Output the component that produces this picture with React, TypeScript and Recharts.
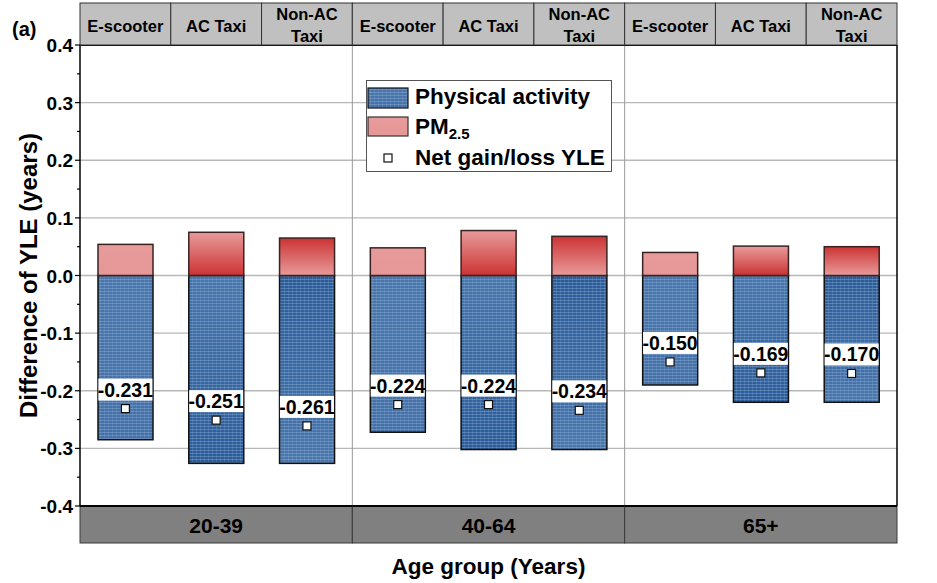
import React from 'react';
import { ComposedChart, Bar, Scatter, XAxis, YAxis, CartesianGrid, Legend, Label } from 'recharts';

// Years of life expectancy change by age group and travel mode
const AGE_GROUPS = ['20-39', '40-64', '65+'];
const MODES = ['E-scooter', 'AC Taxi', 'Non-AC Taxi'];
const HEADER_LABELS = [['E-scooter'], ['AC Taxi'], ['Non-AC', 'Taxi']];

// one value per age group x mode, age group major
const PHYSICAL_ACTIVITY = [-0.285, -0.326, -0.326, -0.272, -0.302, -0.302, -0.19, -0.22, -0.22];
const PM25 = [0.054, 0.075, 0.065, 0.048, 0.078, 0.068, 0.04, 0.051, 0.05];
const NET_YLE = [-0.231, -0.251, -0.261, -0.224, -0.224, -0.234, -0.15, -0.169, -0.17];

const Y_MAJOR = [-0.4, -0.3, -0.2, -0.1, 0, 0.1, 0.2, 0.3, 0.4];
const Y_MINOR = [-0.35, -0.25, -0.15, -0.05, 0.05, 0.15, 0.25, 0.35];
const Y_TICKS = [...Y_MAJOR, ...Y_MINOR].sort((a, b) => a - b);

const W = 937;
const H = 583;
const LEFT_AXIS_W = 80;
const RIGHT_AXIS_W = 40;
const HEADER_H = 42;
const FOOTER_H = 77;
const BAND_H = 37;
const BAND = (W - LEFT_AXIS_W - RIGHT_AXIS_W) / (AGE_GROUPS.length * MODES.length);
const FONT = '"Liberation Sans", Arial, Helvetica, sans-serif';

const BLUE_FILLS = ['blueFlat', 'blueDown', 'blueUp'];
const RED_FILLS = ['redFlat', 'redDown', 'redUp'];

const data = AGE_GROUPS.flatMap((group, gi) =>
  MODES.map((mode, mi) => {
    const i = gi * MODES.length + mi;
    return {
      key: `${group} ${mode}`,
      group,
      mode,
      modeIndex: mi,
      pa: PHYSICAL_ACTIVITY[i],
      pm: PM25[i],
      net: NET_YLE[i],
    };
  })
);

const byKey = (k: string) => data.find((d) => d.key === k);
const isMajor = (v: number) => Y_MAJOR.some((m) => Math.abs(m - v) < 1e-9);

const Defs = () => (
  <svg width={0} height={0} style={{ position: 'absolute' }}>
    <defs>
      <linearGradient id="blueFlat" x1="0" y1="0" x2="0" y2="1">
        <stop offset="0%" stopColor="#4a77ab" />
        <stop offset="100%" stopColor="#4470a6" />
      </linearGradient>
      <linearGradient id="blueDown" x1="0" y1="0" x2="0" y2="1">
        <stop offset="0%" stopColor="#4976aa" />
        <stop offset="100%" stopColor="#2b5b97" />
      </linearGradient>
      <linearGradient id="blueUp" x1="0" y1="0" x2="0" y2="1">
        <stop offset="0%" stopColor="#2b5b97" />
        <stop offset="100%" stopColor="#4a77ab" />
      </linearGradient>
      <linearGradient id="redFlat" x1="0" y1="0" x2="0" y2="1">
        <stop offset="0%" stopColor="#e89b9b" />
        <stop offset="100%" stopColor="#e69797" />
      </linearGradient>
      <linearGradient id="redDown" x1="0" y1="0" x2="0" y2="1">
        <stop offset="0%" stopColor="#e89b9b" />
        <stop offset="100%" stopColor="#cc3333" />
      </linearGradient>
      <linearGradient id="redUp" x1="0" y1="0" x2="0" y2="1">
        <stop offset="0%" stopColor="#cc3333" />
        <stop offset="100%" stopColor="#e89b9b" />
      </linearGradient>
      <pattern id="dots" patternUnits="userSpaceOnUse" width={4} height={3}>
        <rect x={0} y={0} width={4} height={1} fill="#9dbbe0" opacity={0.35} />
        <rect x={0} y={0} width={1} height={3} fill="#9dbbe0" opacity={0.2} />
      </pattern>
    </defs>
  </svg>
);

const barShape = (fills: string[], textured: boolean, edge: string) => (props: any) => {
  const { x, y, width, height, payload } = props;
  const top = height < 0 ? y + height : y;
  const h = Math.abs(height);
  const fill = `url(#${fills[payload.modeIndex]})`;
  return (
    <g>
      <rect x={x} y={top} width={width} height={h} fill={fill} />
      {textured && <rect x={x} y={top} width={width} height={h} fill="url(#dots)" />}
      <rect x={x} y={top} width={width} height={h} fill="none" stroke={edge} strokeWidth={1.5} />
    </g>
  );
};

const NetMarker = (props: any) => {
  const { cx, cy, payload } = props;
  return (
    <g>
      <rect x={cx - 27} y={cy - 30} width={54} height={22} fill="#fff" />
      <text
        x={cx}
        y={cy - 12}
        textAnchor="middle"
        fontFamily={FONT}
        fontWeight="bold"
        fontSize={19.5}
        fill="#000"
      >
        {payload.net.toFixed(3)}
      </text>
      <rect x={cx - 4} y={cy - 4} width={8} height={8} fill="#fff" stroke="#111" strokeWidth={1.2} />
    </g>
  );
};

const YTick = (side: 'left' | 'right') => (props: any) => {
  const { x, y, payload } = props;
  const major = isMajor(payload.value);
  const len = major ? 5 : 3;
  const dir = side === 'left' ? -1 : 1;
  return (
    <g>
      <line x1={x} x2={x + dir * len} y1={y} y2={y} stroke="#000" strokeWidth={1.2} />
      {major && (
        <text
          x={x + dir * 7}
          y={y + 7}
          textAnchor={side === 'left' ? 'end' : 'start'}
          fontFamily={FONT}
          fontWeight="bold"
          fontSize={19}
          fill="#000"
        >
          {payload.value.toFixed(1)}
        </text>
      )}
    </g>
  );
};

const HeaderTick = (props: any) => {
  const { x, y, payload } = props;
  const d = byKey(payload.value);
  if (!d) return <g />;
  const lines = HEADER_LABELS[d.modeIndex];
  const baselines = lines.length === 1 ? [y - 13] : [y - 25.5, y - 3];
  return (
    <g>
      <rect x={x - BAND / 2} y={y - HEADER_H} width={BAND} height={HEADER_H} fill="#c0c0c0" stroke="#333" strokeWidth={1} />
      {lines.map((line, i) => (
        <text
          key={line}
          x={x}
          y={baselines[i]}
          textAnchor="middle"
          fontFamily={FONT}
          fontWeight="bold"
          fontSize={16.5}
          fill="#000"
        >
          {line}
        </text>
      ))}
    </g>
  );
};

const GroupTick = (props: any) => {
  const { x, y, payload } = props;
  const d = byKey(payload.value);
  if (!d || d.modeIndex !== 1) return <g />;
  return (
    <g>
      <rect x={x - 1.5 * BAND} y={y} width={3 * BAND} height={BAND_H} fill="#808080" stroke="#3a3a3a" strokeWidth={1} />
      <line x1={x - 1.5 * BAND} x2={x + 1.5 * BAND} y1={y} y2={y} stroke="#000" strokeWidth={2} />
      <text x={x} y={y + 27} textAnchor="middle" fontFamily={FONT} fontWeight="bold" fontSize={21} fill="#000">
        {d.group}
      </text>
    </g>
  );
};

const YTitle = (props: any) => {
  const vb = props.viewBox || { x: 0, y: 45, width: LEFT_AXIS_W, height: 461 };
  const cx = vb.x + 28;
  const cy = vb.y + vb.height / 2;
  return (
    <text
      x={cx}
      y={cy}
      transform={`rotate(-90, ${cx}, ${cy})`}
      textAnchor="middle"
      dominantBaseline="central"
      fontFamily={FONT}
      fontWeight="bold"
      fontSize={24}
      fill="#000"
    >
      Difference of YLE (years)
    </text>
  );
};

const XTitle = (props: any) => {
  const vb = props.viewBox || { x: LEFT_AXIS_W, y: 506, width: 817, height: FOOTER_H };
  return (
    <text
      x={vb.x + vb.width / 2}
      y={vb.y + 68}
      textAnchor="middle"
      fontFamily={FONT}
      fontWeight="bold"
      fontSize={22.5}
      fill="#000"
    >
      Age group (Years)
    </text>
  );
};

const LegendBox = () => (
  <svg width={246} height={92} style={{ display: 'block' }}>
    <rect x={0.5} y={0.5} width={245} height={91} fill="#fff" stroke="#555" strokeWidth={1} />
    <rect x={2} y={8} width={40} height={20} fill="url(#blueFlat)" />
    <rect x={2} y={8} width={40} height={20} fill="url(#dots)" />
    <rect x={2} y={8} width={40} height={20} fill="none" stroke="#111" strokeWidth={1.2} />
    <text x={49} y={24} fontFamily={FONT} fontWeight="bold" fontSize={22.5} fill="#000">
      Physical activity
    </text>
    <rect x={2} y={37} width={40} height={19} fill="url(#redFlat)" stroke="#333" strokeWidth={1.2} />
    <text x={49} y={54} fontFamily={FONT} fontWeight="bold" fontSize={22.5} fill="#000">
      PM
      <tspan dy={5} fontSize={15}>
        2.5
      </tspan>
    </text>
    <rect x={18} y={74} width={8} height={8} fill="#fff" stroke="#111" strokeWidth={1.2} />
    <text x={49} y={85} fontFamily={FONT} fontWeight="bold" fontSize={22.5} fill="#000">
      Net gain/loss YLE
    </text>
  </svg>
);

const App: React.FC = () => {
  return (
    <div style={{ position: 'absolute', left: 0, top: 0, width: W, height: H, background: '#fff' }}>
      <Defs />
      <div
        style={{
          position: 'absolute',
          left: 12,
          top: 17,
          fontFamily: FONT,
          fontWeight: 'bold',
          fontSize: 20,
          lineHeight: '24px',
          zIndex: 2,
        }}
      >
        (a)
      </div>
      <ComposedChart
        width={W}
        height={H}
        data={data}
        stackOffset="sign"
        margin={{ top: 3, right: 0, bottom: 0, left: 0 }}
      >
        <CartesianGrid
          xAxisId="bottom"
          yAxisId="left"
          vertical={false}
          horizontalValues={Y_MAJOR}
          stroke="#b8b8b8"
          strokeWidth={1.3}
        />
        <CartesianGrid
          xAxisId="bottom"
          yAxisId="left"
          horizontal={false}
          verticalCoordinatesGenerator={({ offset }: any) =>
            offset ? [offset.left + offset.width / 3, offset.left + (offset.width * 2) / 3] : []
          }
          stroke="#999"
          strokeWidth={1}
        />
        <XAxis
          xAxisId="top"
          orientation="top"
          dataKey="key"
          height={HEADER_H}
          interval={0}
          tickLine={false}
          tickSize={0}
          tickMargin={0}
          axisLine={{ stroke: '#000', strokeWidth: 2 }}
          tick={HeaderTick}
        />
        <XAxis
          xAxisId="bottom"
          dataKey="key"
          height={FOOTER_H}
          interval={0}
          tickLine={false}
          tickSize={0}
          tickMargin={0}
          axisLine={{ stroke: '#000', strokeWidth: 2 }}
          tick={GroupTick}
        >
          <Label content={XTitle} />
        </XAxis>
        <YAxis
          yAxisId="left"
          width={LEFT_AXIS_W}
          domain={[-0.4, 0.4]}
          ticks={Y_TICKS}
          interval={0}
          tickLine={false}
          tickSize={0}
          tickMargin={0}
          axisLine={{ stroke: '#000', strokeWidth: 1.5 }}
          tick={YTick('left')}
        >
          <Label content={YTitle} />
        </YAxis>
        <YAxis
          yAxisId="right"
          orientation="right"
          width={RIGHT_AXIS_W}
          domain={[-0.4, 0.4]}
          ticks={Y_TICKS}
          interval={0}
          tickLine={false}
          tickSize={0}
          tickMargin={0}
          axisLine={{ stroke: '#000', strokeWidth: 1.5 }}
          tick={YTick('right')}
        />
        <Bar
          name="Physical activity"
          dataKey="pa"
          stackId="yle"
          xAxisId="bottom"
          yAxisId="left"
          barSize={55}
          shape={barShape(BLUE_FILLS, true, '#111')}
          isAnimationActive={false}
        />
        <Bar
          name="PM2.5"
          dataKey="pm"
          stackId="yle"
          xAxisId="bottom"
          yAxisId="left"
          barSize={55}
          shape={barShape(RED_FILLS, false, '#3a2222')}
          isAnimationActive={false}
        />
        <Scatter
          name="Net gain/loss YLE"
          dataKey="net"
          xAxisId="bottom"
          yAxisId="left"
          shape={NetMarker}
          isAnimationActive={false}
        />
        <Legend
          layout="vertical"
          align="center"
          verticalAlign="middle"
          wrapperStyle={{ left: 366, top: 80, width: 246, height: 92 }}
          content={LegendBox}
        />
      </ComposedChart>
    </div>
  );
};

export default App;
